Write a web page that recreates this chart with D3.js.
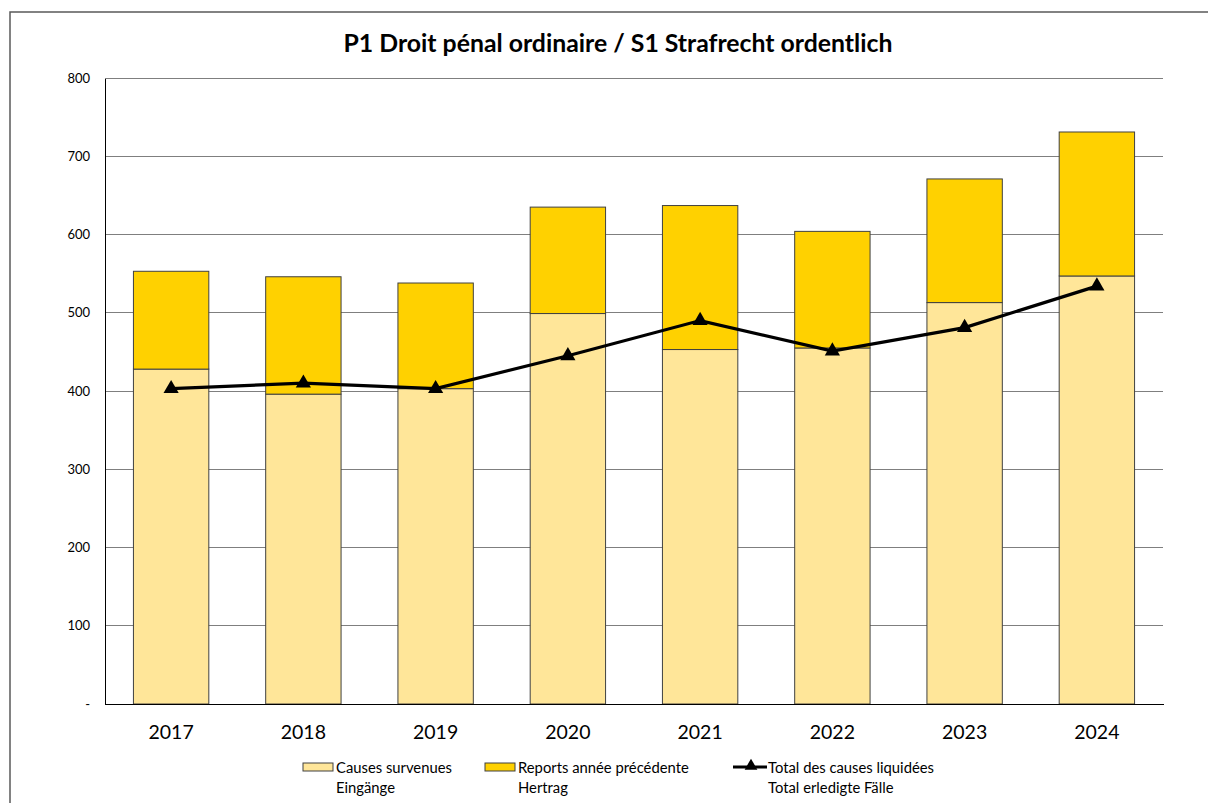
<!DOCTYPE html>
<html><head><meta charset="utf-8">
<script src="https://cdn.jsdelivr.net/npm/d3@7"></script>
<style>body{margin:0;background:#fff;} svg{display:block;}</style>
</head><body>
<script>
const years = ["2017","2018","2019","2020","2021","2022","2023","2024"];
const causesSurvenues = [428, 396, 403, 499, 453, 455, 513, 547];
const reports = [125, 150, 135, 136, 184, 149, 158, 184];
const totalLiquidees = [403, 410, 403, 445, 490, 451, 481, 534];
const yTicks = [0,100,200,300,400,500,600,700,800];
const title = "P1 Droit pénal ordinaire / S1 Strafrecht ordentlich";
const legendItems = [
  {l1:"Causes survenues", l2:"Eingänge", type:"bar", color:"#FFE699"},
  {l1:"Reports année précédente", l2:"Hertrag", type:"bar", color:"#FFD100"},
  {l1:"Total des causes liquidées", l2:"Total erledigte Fälle", type:"line"}
];

const W=1208,H=803;
const font = "Lato, 'Open Sans', sans-serif";
const svg = d3.select("body").append("svg").attr("width",W).attr("height",H);
svg.append("rect").attr("width",W).attr("height",H).attr("fill","#fff");
svg.append("rect").attr("x",10).attr("y",12).attr("width",W).attr("height",H)
  .attr("fill","none").attr("stroke","#595959").attr("stroke-width",1.5);

const m={l:105,r:1163,t:78,b:704};
const x = d3.scaleBand().domain(years).range([m.l,m.r]).paddingInner(0.43).paddingOuter(0.215);
const y = d3.scaleLinear().domain([0,800]).range([m.b,m.t]);

// gridlines
svg.append("g").selectAll("line").data(yTicks.filter(d=>d>0)).join("line")
  .attr("x1",m.l).attr("x2",m.r).attr("y1",d=>y(d)).attr("y2",d=>y(d))
  .attr("stroke","#7f7f7f").attr("stroke-width",1).attr("shape-rendering","crispEdges");

// y axis
const yAxis = d3.axisLeft(y).tickValues(yTicks).tickSize(0).tickPadding(15)
  .tickFormat(d=>d===0?"-":d);
const gy = svg.append("g").attr("transform",`translate(${m.l},0)`).call(yAxis);
gy.select(".domain").attr("stroke","#000").attr("shape-rendering","crispEdges");
gy.selectAll("text").attr("font-family",font).attr("font-size",13).attr("fill","#000");

// bars
const data = years.map((yr,i)=>({yr, a:causesSurvenues[i], b:reports[i], t:totalLiquidees[i]}));
const bars = svg.append("g");
bars.selectAll(".a").data(data).join("rect").attr("class","a")
  .attr("x",d=>x(d.yr)).attr("width",x.bandwidth())
  .attr("y",d=>y(d.a)).attr("height",d=>y(0)-y(d.a))
  .attr("fill","#FFE699").attr("stroke","#404040").attr("stroke-width",1);
bars.selectAll(".b").data(data).join("rect").attr("class","b")
  .attr("x",d=>x(d.yr)).attr("width",x.bandwidth())
  .attr("y",d=>y(d.a+d.b)).attr("height",d=>y(d.a)-y(d.a+d.b))
  .attr("fill","#FFD100").attr("stroke","#404040").attr("stroke-width",1);

// x axis
const xAxis = d3.axisBottom(x).tickSize(0).tickPadding(21.5);
const gx = svg.append("g").attr("transform",`translate(0,${m.b})`).call(xAxis);
gx.select(".domain").attr("stroke","#000").attr("shape-rendering","crispEdges");
gx.selectAll("text").attr("font-family",font).attr("font-size",19.5).attr("fill","#000");

// line
const cx = d=>x(d.yr)+x.bandwidth()/2;
svg.append("path").datum(data)
  .attr("d",d3.line().x(cx).y(d=>y(d.t)))
  .attr("fill","none").attr("stroke","#000").attr("stroke-width",3.2);
const tri = d3.symbol().type(d3.symbolTriangle).size(100);
svg.append("g").selectAll("path").data(data).join("path")
  .attr("d",tri).attr("transform",d=>`translate(${cx(d)},${y(d.t)})`).attr("fill","#000");

// title
svg.append("text").attr("x",618).attr("y",52).attr("text-anchor","middle")
  .attr("font-family",font).attr("font-weight","bold").attr("font-size",24.8).text(title);

// legend
const lx=[303,485,733];
const lg = svg.append("g");
legendItems.forEach((it,i)=>{
  const g = lg.append("g").attr("transform",`translate(${lx[i]},0)`);
  let tx;
  if(it.type==="bar"){
    g.append("rect").attr("x",0).attr("y",763).attr("width",30).attr("height",8)
      .attr("fill",it.color).attr("stroke","#404040").attr("stroke-width",1);
    tx = 33;
  } else {
    g.append("line").attr("x1",0).attr("x2",34).attr("y1",767).attr("y2",767)
      .attr("stroke","#000").attr("stroke-width",3.2);
    g.append("path").attr("d",d3.symbol().type(d3.symbolTriangle).size(70))
      .attr("transform","translate(18,766)").attr("fill","#000");
    tx = 35;
  }
  g.append("text").attr("x",tx).attr("y",773).attr("font-family",font).attr("font-size",14.8).text(it.l1);
  g.append("text").attr("x",tx).attr("y",792.5).attr("font-family",font).attr("font-size",14.8).text(it.l2);
});
</script>
</body></html>
